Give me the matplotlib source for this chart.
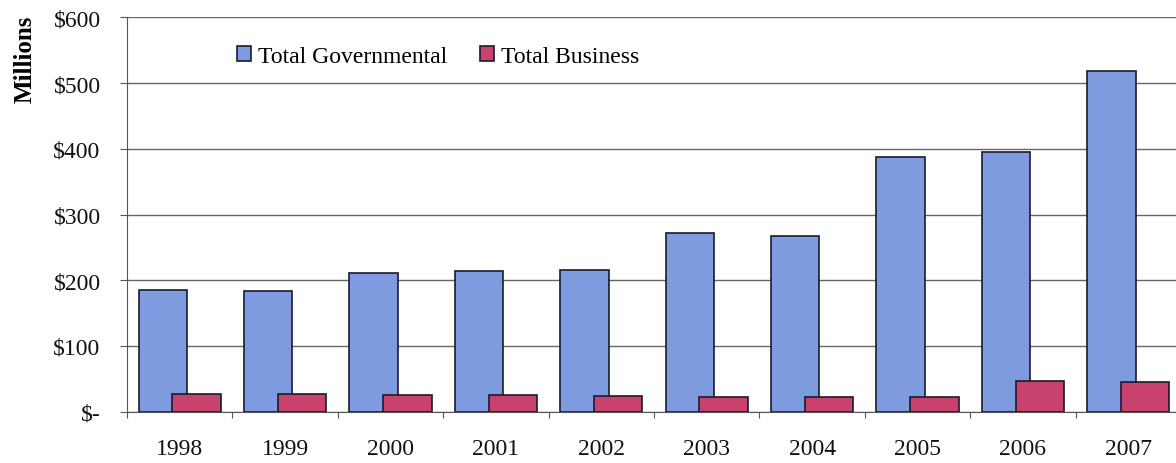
import numpy as np
import matplotlib
matplotlib.use('Agg')
import matplotlib.pyplot as plt
from matplotlib.ticker import FixedLocator

years = ['1998', '1999', '2000', '2001', '2002', '2003', '2004', '2005', '2006', '2007']
governmental = [185, 183, 211, 214, 216, 272, 267, 387, 395, 518]
business = [27, 27, 26, 25, 24, 23, 22, 22, 46, 45]
y_ticks = [0, 100, 200, 300, 400, 500, 600]
y_labels = ['$-', '$100', '$200', '$300', '$400', '$500', '$600']

plt.rcParams['font.family'] = ['Liberation Serif', 'DejaVu Serif']

fig = plt.figure(figsize=(11.76, 4.64), dpi=100)
# right edge runs slightly past the picture, as in the original scan
ax = fig.add_axes([127 / 1176, 1 - 412.7 / 464, 1054 / 1176, 394.4 / 464])

x = np.arange(len(years))
w = 0.46
ax.bar(x - 0.16, governmental, w, color='#7f9be0', edgecolor='#1a1a2e', linewidth=1.2,
       label='Total Governmental', zorder=2)
ax.bar(x + 0.16, business, w, color='#c8426d', edgecolor='#1a1a2e', linewidth=1.2,
       label='Total Business', zorder=3)

ax.set_xlim(-0.5, len(years) - 0.5)
ax.set_ylim(0, 600)
ax.set_yticks(y_ticks)
ax.set_yticklabels(y_labels, fontsize=17, color='#111111')
ax.yaxis.grid(True, color='#666666', linewidth=1.0, zorder=0)
ax.set_axisbelow(True)

# category labels centred, ticks between categories
ax.xaxis.set_major_locator(FixedLocator(np.arange(len(years) + 1) - 0.5))
ax.xaxis.set_minor_locator(FixedLocator(x))
ax.set_xticklabels([])
ax.set_xticklabels(years, minor=True, fontsize=17, color='#111111')
ax.tick_params(axis='x', which='major', length=4.5, color='#555555', direction='out')
ax.tick_params(axis='x', which='minor', length=0, pad=19)
ax.tick_params(axis='y', length=5, color='#555555', pad=14)

for side in ['top', 'right']:
    ax.spines[side].set_visible(False)
ax.spines['left'].set_color('#555555')
ax.spines['bottom'].set_color('#555555')

ax.set_ylabel('Millions', fontsize=18, fontweight='bold')
ax.yaxis.set_label_coords(-0.086, 0.895)

ax.legend(loc='center left', bbox_to_anchor=(0.104, 0.9), ncol=2, frameon=False,
          fontsize=17, handlelength=0.6, handleheight=0.6, handletextpad=0.3,
          columnspacing=1.4, borderaxespad=0, borderpad=0)

fig.savefig('out.png', dpi=100, facecolor='white')
